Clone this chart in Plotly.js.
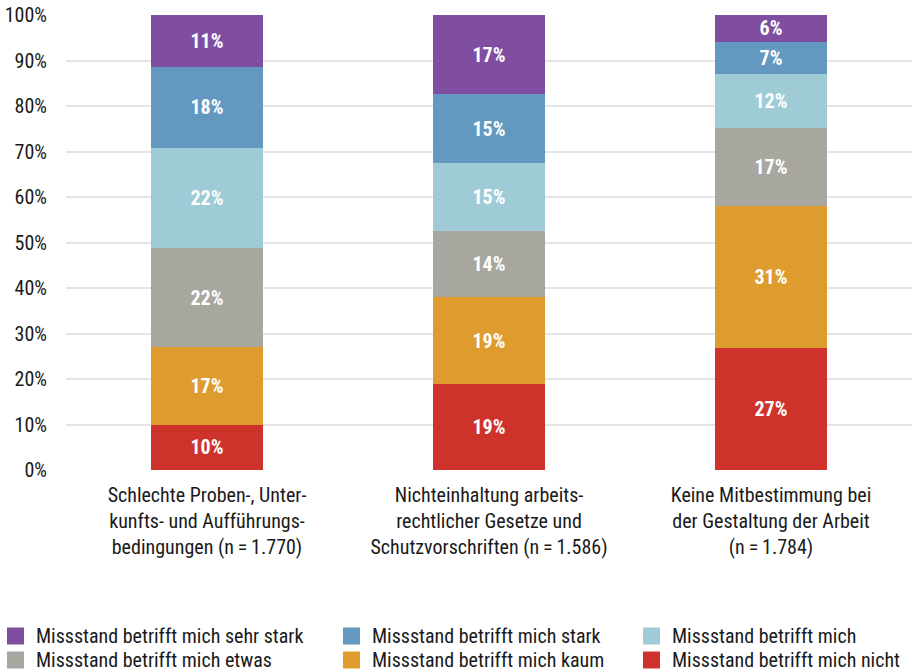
<!DOCTYPE html>
<html>
<head>
<meta charset="utf-8">
<script src="https://cdn.plot.ly/plotly-3.0.1.min.js"></script>
<style>
body{margin:0;background:#fff;}
#chart{width:914px;height:672px;}
text{font-stretch:condensed !important;}
</style>
</head>
<body>
<div id="chart"></div>
<script>
const categories = [
  "Schlechte Proben-, Unter-<br>kunfts- und Aufführungs-<br>bedingungen (n\u2009=\u20091.770)",
  "Nichteinhaltung arbeits-<br>rechtlicher Gesetze und<br>Schutzvorschriften (n\u2009=\u20091.586)",
  "Keine Mitbestimmung bei<br>der Gestaltung der Arbeit<br>(n\u2009=\u20091.784)"
];
const seriesNames = [
  "Missstand betrifft mich nicht",
  "Missstand betrifft mich kaum",
  "Missstand betrifft mich etwas",
  "Missstand betrifft mich",
  "Missstand betrifft mich stark",
  "Missstand betrifft mich sehr stark"
];
const nicht      = [9.9, 18.9, 26.8];
const kaum       = [17.1, 19.1, 31.2];
const etwas      = [21.8, 14.5, 17.2];
const mich       = [22.0, 15.0, 11.8];
const stark      = [17.8, 15.1, 7.1];
const sehrStark  = [11.4, 17.4, 5.9];
const labelsNicht     = ["10%", "19%", "27%"];
const labelsKaum      = ["17%", "19%", "31%"];
const labelsEtwas     = ["22%", "14%", "17%"];
const labelsMich      = ["22%", "15%", "12%"];
const labelsStark     = ["18%", "15%", "7%"];
const labelsSehrStark = ["11%", "17%", "6%"];
const tickVals = [0,10,20,30,40,50,60,70,80,90,100];
const tickText = ["0%","10%","20%","30%","40%","50%","60%","70%","80%","90%","100%"];

const values = [nicht, kaum, etwas, mich, stark, sehrStark];
const labels = [labelsNicht, labelsKaum, labelsEtwas, labelsMich, labelsStark, labelsSehrStark];
const colors = ["#cd332b", "#de9c2f", "#a8a79f", "#9ecbd6", "#6399c0", "#7f4ea1"];
const FONT = "'Roboto Condensed', 'DejaVu Sans Condensed', sans-serif";
const TXT = "#1a1a1a";

const traces = values.map((v, i) => ({
  type: "bar",
  name: seriesNames[i],
  x: categories,
  y: v,
  text: labels[i],
  textposition: "inside",
  insidetextanchor: "middle",
  textangle: 0,
  textfont: {family: FONT, size: 20, color: "#ffffff", weight: "bold"},
  marker: {color: colors[i], line: {width: 0}},
  hoverinfo: "skip",
  showlegend: false
}));

const W = 914, H = 672, ML = 66, MR = 2, MT = 15, MB = 202;
const pw = W - ML - MR, ph = H - MT - MB;
const px = x => (x - ML) / pw;
const py = y => (H - MB - y) / ph;
const legendOrder = [5, 4, 3, 2, 1, 0];
const colX = [7, 343, 643];
const rowY = [636, 660];
const shapes = [], annotations = [];
legendOrder.forEach((si, k) => {
  const c = k % 3, r = Math.floor(k / 3);
  const x0 = colX[c], yc = rowY[r];
  shapes.push({type: "rect", xref: "paper", yref: "paper",
    x0: px(x0), x1: px(x0 + 17), y0: py(yc + 8.5), y1: py(yc - 8.5),
    fillcolor: colors[si], line: {width: 0}, layer: "above"});
  annotations.push({xref: "paper", yref: "paper", x: px(x0 + 27), y: py(yc),
    xanchor: "left", yanchor: "middle", align: "left", showarrow: false,
    text: seriesNames[si], font: {family: FONT, size: 20, color: TXT}});
});

const layout = {
  width: W, height: H,
  margin: {l: ML, r: MR, t: MT, b: MB},
  barmode: "stack",
  bargap: 0.603,
  uniformtext: {mode: "show", minsize: 20},
  paper_bgcolor: "#ffffff",
  plot_bgcolor: "#ffffff",
  font: {family: FONT, size: 20, color: TXT},
  showlegend: false,
  shapes: shapes,
  annotations: annotations,
  xaxis: {
    type: "category",
    showgrid: false,
    zeroline: false,
    showline: false,
    ticks: "",
    ticklabelstandoff: 11,
    tickfont: {family: FONT, size: 20, color: TXT},
    fixedrange: true
  },
  yaxis: {
    range: [0, 100],
    tickvals: tickVals,
    ticktext: tickText,
    showgrid: true,
    gridcolor: "#e4e4e4",
    gridwidth: 2,
    zeroline: false,
    showline: false,
    ticks: "",
    ticklabelstandoff: 18,
    tickfont: {family: FONT, size: 20, color: TXT},
    fixedrange: true
  }
};

Plotly.newPlot("chart", traces, layout, {displayModeBar: false, staticPlot: true});
</script>
</body>
</html>
